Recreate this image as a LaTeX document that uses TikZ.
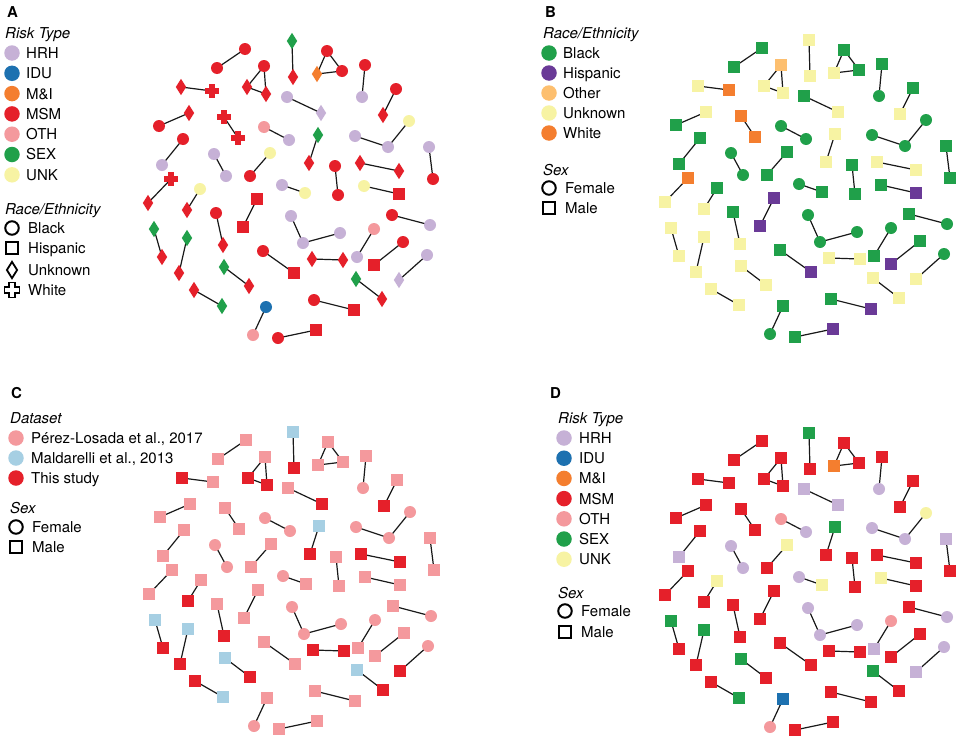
\documentclass[tikz,border=0pt]{standalone}
\usepackage{fontspec}
\setmainfont{TeX Gyre Heros}
\usetikzlibrary{shapes.geometric}
\pgfdeclarelayer{paper}
\pgfdeclarelayer{background}
\pgfsetlayers{paper,background,main}
\definecolor{colHRH}{HTML}{C6B1D6}
\definecolor{colIDU}{HTML}{1D71B0}
\definecolor{colMI}{HTML}{F47E2F}
\definecolor{colMSM}{HTML}{E5202A}
\definecolor{colOTH}{HTML}{F4999D}
\definecolor{colSEX}{HTML}{20A04A}
\definecolor{colUNK}{HTML}{F7F3A3}
\definecolor{racec}{HTML}{20A04A}
\definecolor{races}{HTML}{6A3A97}
\definecolor{raced}{HTML}{F7F3A3}
\definecolor{racex}{HTML}{F47E2F}
\definecolor{raceo}{HTML}{FDBF6F}
\definecolor{dsP}{HTML}{F4999D}
\definecolor{dsM}{HTML}{A6CFE3}
\definecolor{dsT}{HTML}{E5202A}
\tikzset{
  shpc/.style={circle, fill=#1, inner sep=0pt, minimum size=12pt},
  shps/.style={rectangle, fill=#1, inner sep=0pt, minimum size=11.5pt},
  shpd/.style={diamond, fill=#1, inner sep=0pt, minimum width=10.5pt, minimum height=16.5pt},
  shpx/.style={rectangle, inner sep=0pt, minimum size=14pt,
    path picture={\fill[#1] ([shift={(-7pt,-2.6pt)}]path picture bounding box.center) rectangle ([shift={(7pt,2.6pt)}]path picture bounding box.center);
                  \fill[#1] ([shift={(-2.6pt,-7pt)}]path picture bounding box.center) rectangle ([shift={(2.6pt,7pt)}]path picture bounding box.center);}},
  sexF/.style={shpc=#1},
  sexM/.style={shps=#1},
  edgeline/.style={line width=1.2pt, black!90},
  legdot/.style={circle, fill=#1, inner sep=0pt, minimum size=15.5pt},
  legcirc/.style={circle, draw=black, line width=2pt, inner sep=0pt, minimum size=13.5pt},
  legsq/.style={rectangle, draw=black, line width=2pt, inner sep=0pt, minimum size=11.5pt},
  legdia/.style={diamond, draw=black, line width=1.8pt, inner sep=0pt, minimum width=11pt, minimum height=17pt},
  txt/.style={anchor=base west, inner sep=0pt, font=\fontsize{15}{18}\selectfont},
  ttl/.style={anchor=base west, inner sep=0pt, font=\fontsize{15}{18}\selectfont\itshape},
  plet/.style={anchor=base west, inner sep=0pt, font=\fontsize{15}{18}\selectfont\bfseries},
}
\def\nodedata{1/245/49/c/MSM/M/P/c,
2/217/68/c/MSM/M/P/c,
3/181/87/d/MSM/M/T/d,
4/212/91/x/MSM/M/P/x,
5/189/113/d/MSM/M/P/d,
6/159/126/c/MSM/M/P/c,
7/183/139/c/MSM/M/P/c,
8/162/165/c/HRH/M/P/c,
9/224/117/x/MSM/M/P/x,
10/238/138/x/MSM/M/P/x,
11/214/154/c/HRH/F/P/c,
12/226/176/c/HRH/F/P/c,
13/171/179/x/MSM/M/P/x,
14/148/203/d/MSM/M/P/d,
15/200/189/c/UNK/M/P/c,
16/187/210/d/MSM/M/T/d,
17/216/213/c/MSM/M/P/c,
18/223/245/d/MSM/M/T/d,
19/154/229/d/SEX/M/M/d,
20/162/257/d/MSM/M/T/d,
21/187/238/d/SEX/M/M/d,
22/179/273/d/MSM/M/T/d,
23/224/267/d/SEX/M/M/d,
24/249/286/d/MSM/M/T/d,
25/194/290/d/MSM/M/T/d,
26/222/306/d/SEX/M/M/d,
27/292/41/d/SEX/M/M/d,
28/293/77/d/MSM/M/T/d,
29/327/51/c/MSM/M/P/c,
30/317/74/d/MI/M/P/d,
31/342/71/c/MSM/M/P/c,
32/264/66/c/MSM/M/P/o,
33/247/87/d/MSM/M/T/d,
34/266/94/d/MSM/M/T/d,
35/365/65/c/MSM/M/P/c,
36/362/97/c/HRH/F/P/c,
37/396/89/c/MSM/M/P/c,
38/383/115/d/MSM/M/T/d,
39/287/97/c/HRH/M/P/c,
40/321/113/d/HRH/M/T/d,
41/264/127/c/OTH/F/P/c,
42/289/140/c/HRH/F/P/c,
43/318/135/d/SEX/M/M/d,
44/309/163/d/MSM/M/T/d,
45/355/136/c/HRH/F/P/c,
46/388/147/c/HRH/F/P/c,
47/409/121/c/UNK/F/P/c,
48/429/147/c/HRH/M/P/c,
49/433/179/c/MSM/M/P/c,
50/360/163/d/MSM/M/T/d,
51/399/171/d/MSM/M/T/d,
52/335/166/c/MSM/M/P/c,
53/338/195/c/MSM/M/P/c,
54/270/153/c/UNK/M/P/c,
55/250/176/c/MSM/M/P/c,
56/282/185/c/HRH/F/P/c,
57/305/193/c/UNK/M/P/c,
58/364/186/c/UNK/M/P/c,
59/399/194/s/MSM/M/P/s,
60/257/199/s/MSM/M/P/s,
61/243/227/s/MSM/M/P/s,
62/291/216/c/HRH/F/P/c,
63/303/243/c/HRH/F/P/c,
64/340/233/c/HRH/F/P/c,
65/392/215/c/MSM/M/P/c,
66/430/225/c/HRH/F/P/c,
67/374/229/c/OTH/F/P/c,
68/357/257/c/HRH/M/P/c,
69/403/242/c/MSM/M/P/c,
70/374/265/s/MSM/M/P/s,
71/263/251/c/MSM/M/P/c,
72/294/273/s/MSM/M/P/s,
73/312/259/d/MSM/M/T/d,
74/343/260/d/MSM/M/T/d,
75/427/255/c/HRH/F/P/c,
76/399/280/d/HRH/M/T/d,
77/356/279/d/SEX/M/M/d,
78/382/299/d/MSM/M/T/d,
79/314/300/c/MSM/M/P/c,
80/354/310/s/MSM/M/P/s,
81/266/307/c/IDU/M/P/c,
82/253/335/c/OTH/F/P/c,
83/278/338/c/MSM/M/P/c,
84/316/330/s/MSM/M/P/s}
\def\edgedata{1/2,3/4,5/6,7/8,9/10,11/12,13/14,15/16,17/18,19/20,21/22,23/24,25/26,27/28,29/30,30/31,29/31,32/33,33/34,32/34,35/36,37/38,39/40,41/42,43/44,45/46,46/47,48/49,50/51,52/53,54/55,56/57,58/59,60/61,62/63,63/64,65/66,67/68,69/70,71/72,73/74,75/76,77/78,79/80,81/82,83/84}
\begin{document}
\begin{tikzpicture}[x=1pt,y=-1pt]
\begin{pgfonlayer}{paper}
\fill[white] (0,0) rectangle (959,739);
\end{pgfonlayer}
\useasboundingbox (0,0) rectangle (959,739);
% ---------- networks ----------
\foreach \i/\px/\py/\rc/\rk/\sx/\ds/\rb in \nodedata {
  \node[shp\rc=col\rk] (A\i) at (\px,\py) {};
  \node[sex\sx=race\rb] (B\i) at (\px+517,\py-1) {};
  \node[sex\sx=ds\ds] (C\i) at (\px+1,\py+391) {};
  \node[sex\sx=col\rk] (D\i) at (\px+517,\py+392) {};
}
\begin{pgfonlayer}{background}
\foreach \P in {A,B,C,D} {
  \foreach \a/\b in \edgedata {
    \draw[edgeline] (\P\a.center) -- (\P\b.center);
  }
}
\end{pgfonlayer}
% ---------- legend A ----------
\node[plet] (Alet) at (7,17) {A};
\node[ttl] (Att1) at (5,38) {Risk Type};
\foreach \k/\t [count=\j] in {HRH/HRH,IDU/IDU,MI/M\&I,MSM/MSM,OTH/OTH,SEX/SEX,UNK/UNK} {
  \node[legdot=col\k] (Ad\j) at (12,{53+(\j-1)*20.3}) {};
  \node[txt] (At\j) at (26,{58.4+(\j-1)*20.3}) {\t};
}
\node[ttl] (Att2) at (5,214) {Race/Ethnicity};
\node[legcirc] (Asy1) at (12,228) {};
\node[txt] (Asl1) at (28,233.4) {Black};
\node[legsq] (Asy2) at (12,248) {};
\node[txt] (Asl2) at (28,253.4) {Hispanic};
\node[legdia] (Asy3) at (12,270) {};
\node[txt] (Asl3) at (28,275.4) {Unknown};
\draw[line width=1.8pt] (4.5,287.2) -- (9.2,287.2) -- (9.2,282.5) -- (14.8,282.5) -- (14.8,287.2) -- (19.5,287.2) -- (19.5,292.8) -- (14.8,292.8) -- (14.8,297.5) -- (9.2,297.5) -- (9.2,292.8) -- (4.5,292.8) -- cycle;
\node[txt] (Asl4) at (28,295.4) {White};
% ---------- legend B ----------
\node[plet] (Blet) at (545,17) {B};
\node[ttl] (Btt1) at (543,38) {Race/Ethnicity};
\foreach \k/\t [count=\j] in {c/Black,s/Hispanic,o/Other,d/Unknown,x/White} {
  \node[legdot=race\k] (Bd\j) at (549,{53+(\j-1)*20}) {};
  \node[txt] (Bt\j) at (563,{58.4+(\j-1)*20}) {\t};
}
\node[ttl] (Btt2) at (543,175) {Sex};
\node[legcirc] (Bsy1) at (549,188) {};
\node[txt] (Bsl1) at (565,193.4) {Female};
\node[legsq] (Bsy2) at (549,208) {};
\node[txt] (Bsl2) at (565,213.4) {Male};
% ---------- legend C ----------
\node[plet] (Clet) at (11,398) {C};
\node[ttl] (Ctt1) at (10,423) {Dataset};
\foreach \k/\t [count=\j] in {P/{Pérez-Losada et al., 2017},M/{Maldarelli et al., 2013},T/{This study}} {
  \node[legdot=ds\k] (Cd\j) at (16,{438+(\j-1)*20}) {};
  \node[txt] (Ct\j) at (31,{443.4+(\j-1)*20}) {\t};
}
\node[ttl] (Ctt2) at (10,513) {Sex};
\node[legcirc] (Csy1) at (16,527) {};
\node[txt] (Csl1) at (32,532.4) {Female};
\node[legsq] (Csy2) at (16,547) {};
\node[txt] (Csl2) at (32,552.4) {Male};
% ---------- legend D ----------
\node[plet] (Dlet) at (550,398) {D};
\node[ttl] (Dtt1) at (558,423) {Risk Type};
\foreach \k/\t [count=\j] in {HRH/HRH,IDU/IDU,MI/M\&I,MSM/MSM,OTH/OTH,SEX/SEX,UNK/UNK} {
  \node[legdot=col\k] (Dd\j) at (564,{438+(\j-1)*20.2}) {};
  \node[txt] (Dt\j) at (579,{443.4+(\j-1)*20.2}) {\t};
}
\node[ttl] (Dtt2) at (558,598) {Sex};
\node[legcirc] (Dsy1) at (565,611) {};
\node[txt] (Dsl1) at (581,616.4) {Female};
\node[legsq] (Dsy2) at (565,632) {};
\node[txt] (Dsl2) at (581,637.4) {Male};
\end{tikzpicture}
\end{document}
